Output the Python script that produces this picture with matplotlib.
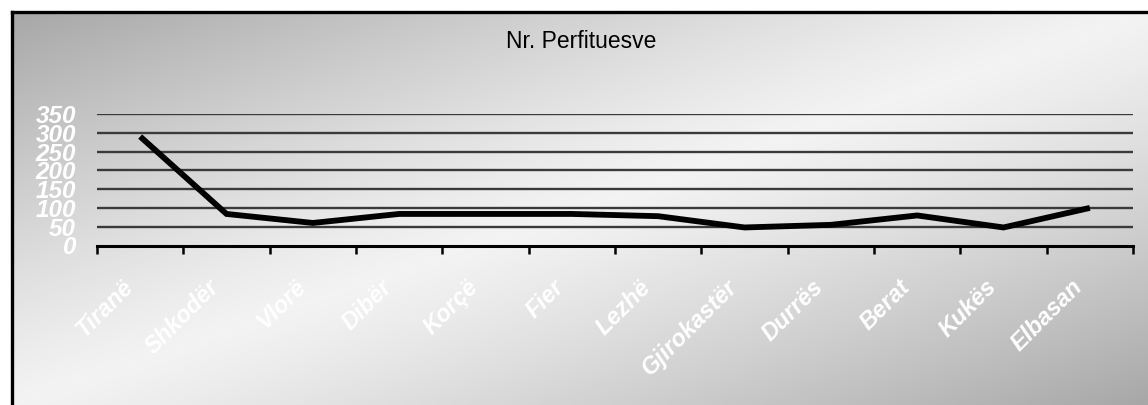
import numpy as np
import matplotlib
matplotlib.use("Agg")
import matplotlib.pyplot as plt
from matplotlib.lines import Line2D
from matplotlib.transforms import ScaledTranslation

categories = ["Tiranë", "Shkodër", "Vlorë", "Dibër", "Korçë", "Fier", "Lezhë",
              "Gjirokastër", "Durrës", "Berat", "Kukës", "Elbasan"]
values = [290, 84, 60, 84, 84, 84, 78, 48, 55, 80, 48, 100]
yticks = [0, 50, 100, 150, 200, 250, 300, 350]
title = "Nr. Perfituesve"

W, H = 1148, 405
DPI = 100
plt.rcParams['font.family'] = ['Liberation Sans', 'DejaVu Sans']

fig = plt.figure(figsize=(W / DPI, H / DPI), dpi=DPI, facecolor='white')

# gradient background inside the frame
bx, by = 12, 12
bg = fig.add_axes([bx / W, 0, 1 - bx / W, 1 - by / H], zorder=-10)
gx = np.linspace(0, 1, 400)
gy = np.linspace(0, 1, 200)
GX, GY = np.meshgrid(gx, gy)
t = (GX + GY) / 2.0
dark, light = 0.655, 0.95
img = light - (light - dark) * np.abs(2 * t - 1) ** 1.2
bg.imshow(img, cmap='gray', vmin=0, vmax=1, aspect='auto',
          extent=[0, 1, 1, 0], interpolation='bilinear')
bg.set_axis_off()

# frame lines (left and top)
fig.add_artist(Line2D([11.5 / W, 11.5 / W], [0, 1 - 11.5 / H], color='black',
                      lw=2.4, transform=fig.transFigure, solid_capstyle='projecting'))
fig.add_artist(Line2D([11.5 / W, 1], [1 - 11.5 / H, 1 - 11.5 / H], color='black',
                      lw=2.4, transform=fig.transFigure, solid_capstyle='projecting'))

left, right = 97 / W, 1133 / W
bottom, top = 1 - 245.5 / H, 1 - 114 / H
ax = fig.add_axes([left, bottom, right - left, top - bottom])
ax.patch.set_alpha(0)

n = len(categories)
xs = np.arange(n) + 0.5
ax.plot(xs, values, color='black', lw=4.2, solid_joinstyle='miter', zorder=5,
        solid_capstyle='butt')

ax.set_xlim(0, n)
ax.set_ylim(0, 350)

for yv in yticks[1:]:
    ax.axhline(yv, color='#3a3a3a', lw=1.7, zorder=2)

for s in ['top', 'right', 'left']:
    ax.spines[s].set_visible(False)
ax.spines['bottom'].set_linewidth(2.2)
ax.spines['bottom'].set_color('black')

ax.set_yticks(yticks)
ax.set_yticklabels([str(v) for v in yticks])
ax.tick_params(axis='y', length=0, pad=15, labelsize=17.5, labelcolor='white')
for lab in ax.get_yticklabels():
    lab.set_fontstyle('italic')
    lab.set_fontweight('bold')

ax.set_xticks(np.arange(n + 1))
ax.set_xticklabels([])
ax.set_xticks(xs, minor=True)
ax.set_xticklabels(categories, minor=True)
ax.tick_params(axis='x', which='major', length=6, width=1.8, color='black', direction='out')
ax.tick_params(axis='x', which='minor', length=0, pad=0, labelsize=17, labelcolor='white')
offset = ScaledTranslation(-19 / DPI, -30 / DPI, fig.dpi_scale_trans)
for lab in ax.get_xticklabels(minor=True):
    lab.set_rotation(45)
    lab.set_ha('right')
    lab.set_va('top')
    lab.set_rotation_mode('anchor')
    lab.set_fontstyle('italic')
    lab.set_fontweight('bold')
    lab.set_transform(lab.get_transform() + offset)

fig.text(581 / W, 1 - 42 / H, title, ha='center', va='center', fontsize=16.5, color='black')

fig.savefig('out.png', dpi=DPI, facecolor='white')
